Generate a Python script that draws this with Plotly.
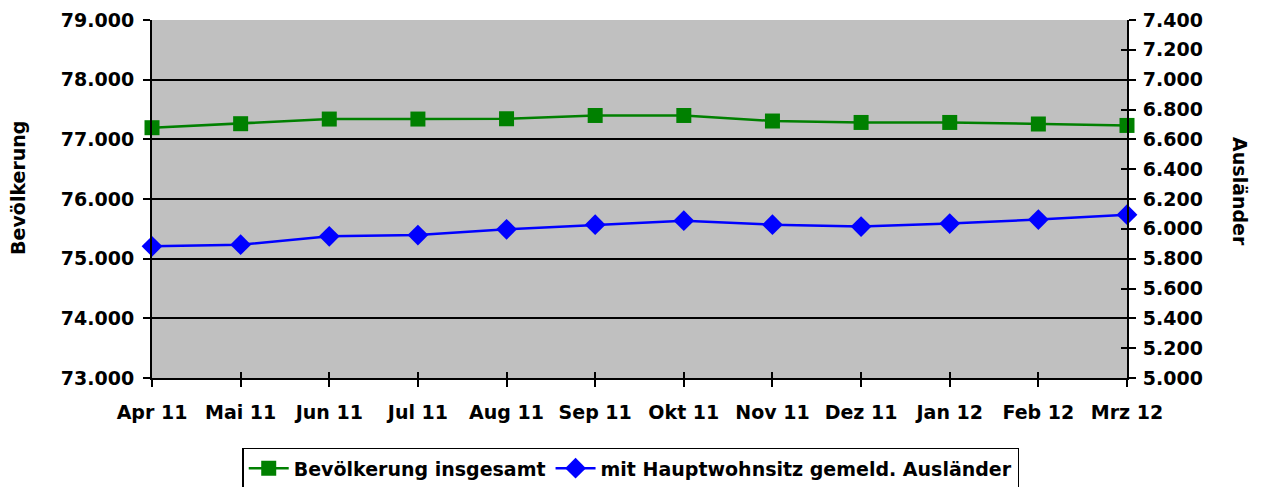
import plotly.graph_objects as go

months = ["Apr 11", "Mai 11", "Jun 11", "Jul 11", "Aug 11", "Sep 11",
          "Okt 11", "Nov 11", "Dez 11", "Jan 12", "Feb 12", "Mrz 12"]
bevoelkerung = [77195, 77262, 77340, 77340, 77345, 77400,
                77400, 77307, 77283, 77283, 77257, 77233]
auslaender = [5883, 5894, 5950, 5958, 5997, 6028,
              6055, 6028, 6015, 6035, 6062, 6095]
left_ticks = [73000, 74000, 75000, 76000, 77000, 78000, 79000]
right_ticks = [5000, 5200, 5400, 5600, 5800, 6000, 6200, 6400, 6600, 6800, 7000, 7200, 7400]

def de(v):
    return f"{v:,}".replace(",", ".")

FONT = "DejaVu Sans"
TF = dict(family=FONT, size=19, color="black", weight="bold")

fig = go.Figure()
fig.add_trace(go.Scatter(
    x=months, y=bevoelkerung, name="<b>Bevölkerung insgesamt</b>",
    mode="lines+markers", line=dict(color="#008000", width=2.5),
    marker=dict(symbol="square", size=15, color="#008000"),
    yaxis="y", cliponaxis=False))
fig.add_trace(go.Scatter(
    x=months, y=auslaender, name="<b>mit Hauptwohnsitz gemeld. Ausländer</b>",
    mode="lines+markers", line=dict(color="#0000FF", width=2.5),
    marker=dict(symbol="diamond", size=16, color="#0000FF"),
    yaxis="y2", cliponaxis=False))
# helper traces (no data) so the inside-tick overlay axes are drawn
fig.add_trace(go.Scatter(x=[months[0]], y=[None], yaxis="y3", showlegend=False,
                         hoverinfo="skip"))
fig.add_trace(go.Scatter(x=[months[0]], y=[None], xaxis="x2", yaxis="y", showlegend=False,
                         hoverinfo="skip"))

fig.update_layout(
    width=1262, height=487,
    margin=dict(l=144, r=143, t=12, b=117, autoexpand=False),
    paper_bgcolor="white", plot_bgcolor="#C0C0C0",
    font=dict(family=FONT, size=19, color="black"),
    showlegend=True,
    legend=dict(orientation="h", x=0.491, xanchor="center", y=-0.195, yanchor="top",
                bgcolor="white", bordercolor="black", borderwidth=1.5,
                font=dict(family=FONT, size=19, color="black"),
                itemwidth=40, tracegroupgap=0),
    xaxis=dict(type="category", range=[0, 11], showgrid=False, automargin=False,
               showline=True, linecolor="black", linewidth=2,
               ticks="outside", ticklen=7, tickwidth=2, tickcolor="black",
               tickfont=TF, ticklabelstandoff=9, zeroline=False,
               ticklabeloverflow="allow"),
    xaxis2=dict(type="category", range=[0, 11], overlaying="x", side="bottom",
                showgrid=False, showline=False, showticklabels=False, automargin=False,
                ticks="inside", ticklen=6, tickwidth=2, tickcolor="black",
                zeroline=False, categoryarray=months, categoryorder="array"),
    yaxis=dict(range=[73000, 79000], tickvals=left_ticks,
               ticktext=[de(v) for v in left_ticks], automargin=False,
               showgrid=True, gridcolor="black", gridwidth=2,
               showline=True, linecolor="black", linewidth=2,
               ticks="outside", ticklen=7, tickwidth=2, tickcolor="black",
               tickfont=TF, ticklabelstandoff=5, ticklabeloverflow="allow",
               zeroline=False),
    yaxis2=dict(range=[5000, 7400], tickvals=right_ticks,
                ticktext=[de(v) for v in right_ticks], automargin=False,
                overlaying="y", side="right", showgrid=False,
                showline=True, linecolor="black", linewidth=2,
                ticks="outside", ticklen=7, tickwidth=2, tickcolor="black",
                tickfont=TF, ticklabelstandoff=3, ticklabeloverflow="allow",
                zeroline=False),
    yaxis3=dict(range=[5000, 7400], tickvals=right_ticks, showticklabels=False,
                overlaying="y", side="right", showgrid=False, showline=False,
                automargin=False,
                ticks="inside", ticklen=6, tickwidth=2, tickcolor="black",
                zeroline=False),
)

fig.add_annotation(text="<b>Bevölkerung</b>", xref="paper", yref="paper",
                   x=(18 - 152) / 975, y=0.531, textangle=-90,
                   showarrow=False, font=dict(family=FONT, size=19, color="black"),
                   xanchor="center", yanchor="middle")
fig.add_annotation(text="<b>Ausländer</b>", xref="paper", yref="paper",
                   x=1.0 + (1240 - 1127) / 975, y=0.522, textangle=90,
                   showarrow=False, font=dict(family=FONT, size=19, color="black"),
                   xanchor="center", yanchor="middle")

fig.write_html("out.html")
